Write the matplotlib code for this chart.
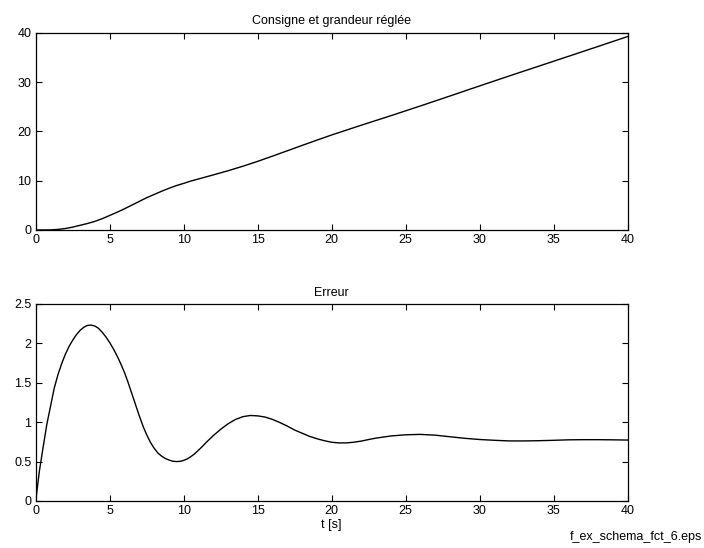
import matplotlib.pyplot as plt
import matplotlib.ticker as mticker

plt.rcParams['font.family'] = ['Liberation Sans', 'DejaVu Sans']
plt.rcParams['font.size'] = 9

# grandeur réglée
t_top = [0, 1, 1.5, 2, 2.5, 3, 3.5, 4, 4.5, 5, 5.5, 6, 6.5, 7, 7.5, 8, 8.5,
         9, 9.5, 10, 10.5, 11, 11.5, 12, 13, 14, 15, 16, 17, 18, 19, 20, 22,
         24, 26, 28, 30, 32, 34, 36, 38, 40]
y_top = [0, 0.02, 0.12, 0.3, 0.58, 0.95, 1.32, 1.75, 2.3, 2.95, 3.6, 4.3,
         5.05, 5.8, 6.55, 7.2, 7.85, 8.45, 9.0, 9.45, 9.94, 10.35, 10.76,
         11.17, 12.02, 12.93, 13.92, 14.98, 16.06, 17.15, 18.22, 19.27,
         21.25, 23.18, 25.16, 27.18, 29.22, 31.24, 33.23, 35.22, 37.22,
         39.23]

# erreur
t_err = [0, 0.25, 0.5, 0.75, 1.0, 1.25, 1.5, 1.75, 2.0, 2.25, 2.5, 2.75,
         3.0, 3.25, 3.5, 3.75, 4.0, 4.25, 4.5, 4.75, 5.0, 5.25, 5.5, 5.75,
         6.0, 6.25, 6.5, 6.75, 7.0, 7.25, 7.5, 7.75, 8.0, 8.25, 8.5, 8.75,
         9.0, 9.25, 9.5, 9.75, 10.0, 10.25, 10.5, 10.75, 11.0, 11.25, 11.5,
         11.75, 12.0, 12.5, 13.0, 13.5, 14.0, 14.5, 15.0, 15.5, 16.0, 16.5,
         17.0, 17.5, 18.0, 18.5, 19.0, 19.5, 20.0, 20.5, 21.0, 21.5, 22.0,
         22.5, 23.0, 24.0, 25.0, 26.0, 27.0, 28.0, 29.0, 30.0, 31.0, 32.0,
         33.0, 34.0, 35.0, 36.0, 37.0, 38.0, 39.0, 40.0]
e_err = [0, 0.38, 0.68, 0.97, 1.20, 1.43, 1.60, 1.74, 1.86, 1.96, 2.04, 2.11,
         2.165, 2.205, 2.228, 2.232, 2.22, 2.19, 2.14, 2.08, 2.01, 1.93,
         1.84, 1.74, 1.63, 1.50, 1.36, 1.22, 1.08, 0.95, 0.84, 0.745, 0.67,
         0.61, 0.57, 0.54, 0.52, 0.505, 0.50, 0.503, 0.515, 0.535, 0.565,
         0.60, 0.645, 0.69, 0.74, 0.785, 0.83, 0.91, 0.98, 1.035, 1.07,
         1.085, 1.08, 1.065, 1.035, 0.995, 0.95, 0.90, 0.86, 0.82, 0.79,
         0.765, 0.745, 0.737, 0.737, 0.746, 0.76, 0.78, 0.798, 0.825, 0.84,
         0.845, 0.835, 0.815, 0.795, 0.78, 0.77, 0.762, 0.762, 0.765, 0.77,
         0.776, 0.778, 0.778, 0.776, 0.773]

x_ticks = [0, 5, 10, 15, 20, 25, 30, 35, 40]


def style_axes(ax):
    # style MATLAB : graduations vers l'intérieur sur les 4 côtés
    ax.tick_params(direction='in', top=True, right=True, length=4,
                   width=0.8, labelsize=9, pad=3)
    for sp in ax.spines.values():
        sp.set_linewidth(0.9)
    ax.set_xticks(x_ticks)
    ax.set_xlim(0, 40)
    ax.yaxis.set_major_formatter(mticker.FormatStrFormatter('%g'))


fig = plt.figure(figsize=(7.04, 5.48), dpi=100)

ax1 = fig.add_axes([0.0507, 0.5803, 0.841, 0.360])
ax1.plot(t_top, y_top, color='black', linewidth=1.0)
ax1.set_ylim(0, 40)
ax1.set_yticks([0, 10, 20, 30, 40])
ax1.set_title('Consigne et grandeur réglée', fontsize=9, pad=6)
style_axes(ax1)

ax2 = fig.add_axes([0.0507, 0.0858, 0.841, 0.3595])
ax2.plot(t_err, e_err, color='black', linewidth=1.0)
ax2.set_ylim(0, 2.5)
ax2.set_yticks([0, 0.5, 1, 1.5, 2, 2.5])
ax2.set_title('Erreur', fontsize=9, pad=6)
ax2.set_xlabel('t [s]', fontsize=9, labelpad=1)
style_axes(ax2)

fig.text(0.998, 0.01, 'f_ex_schema_fct_6.eps', ha='right', va='bottom',
         fontsize=9)

fig.savefig('out.png', dpi=100)
